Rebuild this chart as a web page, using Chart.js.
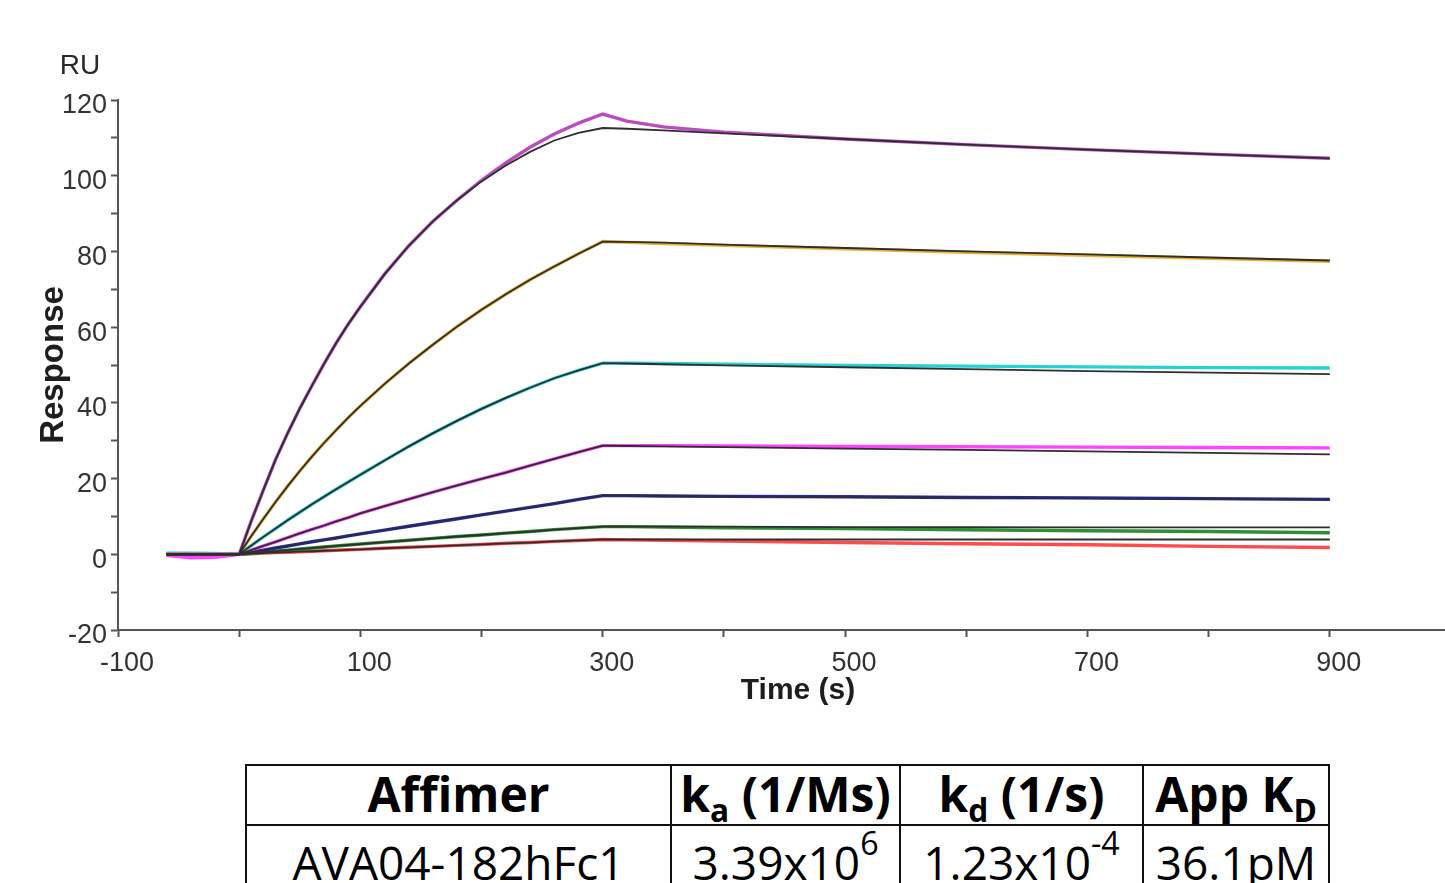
<!DOCTYPE html>
<html>
<head>
<meta charset="utf-8">
<script src="https://cdn.jsdelivr.net/npm/chart.js@4.4.0/dist/chart.umd.min.js"></script>
<style>
  html, body { margin: 0; padding: 0; background: #fff; width: 1445px; height: 883px; overflow: hidden; }
  #wrap { position: relative; width: 1445px; height: 883px; overflow: hidden; }
  #myChart { position: absolute; left: 0; top: 0; }
  table { position: absolute; left: 245px; top: 764px; border-collapse: collapse; table-layout: fixed;
          font-family: "Open Sans", "Noto Sans", sans-serif; color: #000; }
  td, th { border: 2px solid #111; padding: 0; text-align: center; vertical-align: top; white-space: nowrap; }
  th { font-weight: 700; font-size: 48px; line-height: 48px; padding-top: 4px; }
  td { font-weight: 400; font-size: 46px; line-height: 46px; padding-top: 13px; }
  tr.head { height: 60px; }
  tr.row { height: 80px; }
  sub { font-size: 0.66em; line-height: 0; vertical-align: -0.32em; }
  sup { font-size: 0.7em; line-height: 0; vertical-align: 0.78em; }
</style>
</head>
<body>
<div id="wrap">
  <!-- 畫布比視窗略寬, 讓 x 軸延伸到右邊界外 (1000 s) -->
  <canvas id="myChart" width="1451" height="730"></canvas>
  <table>
    <colgroup><col style="width:425px"><col style="width:229px"><col style="width:243px"><col style="width:186px"></colgroup>
    <tr class="head"><th>Affimer</th><th>k<sub>a</sub> (1/Ms)</th><th>k<sub>d</sub> (1/s)</th><th>App K<sub>D</sub></th></tr>
    <tr class="row"><td>AVA04-182hFc1</td><td>3.39x10<sup>6</sup></td><td>1.23x10<sup>-4</sup></td><td>36.1pM</td></tr>
  </table>
</div>
<script>
const ctx = document.getElementById("myChart").getContext("2d");

// 時間 (s)
const times = [-60, -40, -20, 0, 10, 20, 30, 40, 50, 60, 70, 80, 90, 100, 120, 140, 160, 180, 200, 220, 240, 260, 280, 300,
               320, 350, 400, 500, 600, 700, 800, 900];

// 刻度標籤
const xTickLabels = [-100, 100, 300, 500, 700, 900];
const yTickLabels = [-20, 0, 20, 40, 60, 80, 100, 120];

// 量測曲線 (彩色) 與擬合曲線 (黑色)
const s1Data = [0, 0, 0, 0, 8.8, 17, 25, 32, 38.5, 44.5, 50.3, 55.8, 60.8, 65.4, 74, 81.5, 88, 93.6, 98.8, 103.4, 107.5, 111, 113.9, 116.3, 114.4, 112.9, 111.5, 109.7, 108.2, 106.9, 105.7, 104.6];
const s1Fit  = [0, 0, 0, 0, 8.8, 17, 25, 32, 38.5, 44.5, 50.3, 55.8, 60.8, 65.4, 74, 81.5, 88, 93.6, 98.5, 102.7, 106.3, 109.3, 111.3, 112.6, 112.4, 112.0, 111.2, 109.7, 108.2, 106.9, 105.7, 104.6];
const s2Data = [0, 0, 0, 0, 4.8, 9.4, 13.8, 18, 22, 25.8, 29.4, 32.8, 36.1, 39.2, 45, 50.4, 55.4, 60.2, 64.6, 68.7, 72.5, 76, 79.4, 82.6, 82.4, 82.1, 81.6, 80.7, 79.8, 79.0, 78.2, 77.4];
const s2Fit  = [0, 0, 0, 0, 4.8, 9.4, 13.8, 18, 22, 25.8, 29.4, 32.8, 36.1, 39.2, 45, 50.4, 55.4, 60.2, 64.6, 68.7, 72.5, 76, 79.4, 82.6, 82.5, 82.3, 81.8, 80.9, 80.0, 79.2, 78.4, 77.6];
const s3Data = [0.3, 0.3, 0.2, 0, 2.3, 4.6, 6.8, 9, 11.1, 13.2, 15.2, 17.2, 19.1, 21, 24.8, 28.5, 32, 35.3, 38.4, 41.3, 44, 46.5, 48.6, 50.5, 50.5, 50.4, 50.2, 49.9, 49.7, 49.5, 49.3, 49.2];
const s3Fit  = [0, 0, 0, 0, 2.3, 4.6, 6.8, 9, 11.1, 13.2, 15.2, 17.2, 19.1, 21, 24.8, 28.5, 32, 35.3, 38.4, 41.3, 44, 46.5, 48.6, 50.5, 50.4, 50.2, 49.9, 49.4, 48.9, 48.4, 48.0, 47.6];
const s4Data = [-0.3, -0.9, -0.8, 0, 1.1, 2.2, 3.3, 4.4, 5.5, 6.6, 7.6, 8.7, 9.7, 10.8, 12.7, 14.6, 16.4, 18.2, 19.9, 21.6, 23.4, 25.2, 27.0, 28.7, 28.7, 28.7, 28.6, 28.5, 28.4, 28.3, 28.2, 28.1];
const s4Fit  = [0, 0, 0, 0, 1.1, 2.2, 3.3, 4.4, 5.5, 6.6, 7.6, 8.7, 9.7, 10.8, 12.7, 14.6, 16.4, 18.2, 19.9, 21.6, 23.4, 25.2, 27.0, 28.7, 28.6, 28.5, 28.3, 27.9, 27.6, 27.2, 26.8, 26.4];
const s5Data = [0, 0, 0, 0, 0.55, 1.1, 1.65, 2.2, 2.75, 3.3, 3.8, 4.3, 4.85, 5.4, 6.4, 7.4, 8.4, 9.4, 10.4, 11.4, 12.4, 13.4, 14.5, 15.5, 15.5, 15.4, 15.3, 15.2, 15.0, 14.9, 14.7, 14.5];
const s5Fit  = [0, 0, 0, 0, 0.55, 1.1, 1.65, 2.2, 2.75, 3.3, 3.8, 4.3, 4.85, 5.4, 6.4, 7.4, 8.4, 9.4, 10.4, 11.4, 12.4, 13.4, 14.5, 15.5, 15.5, 15.4, 15.3, 15.1, 15.0, 14.8, 14.6, 14.5];
const s6Data = [0, 0, 0, 0, 0.28, 0.55, 0.83, 1.1, 1.38, 1.65, 1.93, 2.2, 2.45, 2.7, 3.2, 3.7, 4.2, 4.7, 5.1, 5.6, 6.0, 6.5, 6.9, 7.3, 7.3, 7.2, 7.0, 6.8, 6.5, 6.2, 6.0, 5.7];
const s6Fit  = [0, 0, 0, 0, 0.28, 0.55, 0.83, 1.1, 1.38, 1.65, 1.93, 2.2, 2.45, 2.7, 3.2, 3.7, 4.2, 4.7, 5.1, 5.6, 6.0, 6.5, 6.9, 7.3, 7.3, 7.3, 7.3, 7.2, 7.2, 7.1, 7.1, 7.1];
const s7Data = [0, 0, 0, 0, 0.15, 0.3, 0.43, 0.55, 0.68, 0.8, 0.93, 1.05, 1.18, 1.3, 1.6, 1.85, 2.1, 2.35, 2.6, 2.9, 3.1, 3.4, 3.65, 3.9, 3.8, 3.7, 3.5, 3.1, 2.8, 2.5, 2.1, 1.8];
const s7Fit  = [0, 0, 0, 0, 0.15, 0.3, 0.43, 0.55, 0.68, 0.8, 0.93, 1.05, 1.18, 1.3, 1.6, 1.85, 2.1, 2.35, 2.6, 2.9, 3.1, 3.4, 3.65, 3.9, 3.9, 3.9, 3.9, 3.9, 3.9, 3.9, 3.9, 3.9];

const dataSets = [s1Data, s2Data, s3Data, s4Data, s5Data, s6Data, s7Data];
const fitSets = [s1Fit, s2Fit, s3Fit, s4Fit, s5Fit, s6Fit, s7Fit];
const colors = ["#b94cbf", "#e8b23a", "#25d2d6", "#ff44ff", "#2626cc", "#2f8f34", "#ff4b4b"];

const toPoints = (vals) => times.map((t, i) => ({ x: t, y: vals[i] }));

const datasets = [];
fitSets.forEach((vals) => {
  datasets.push({ data: toPoints(vals), borderColor: "#2e2e2e", borderWidth: 1.8, order: 0 });
});
dataSets.forEach((vals, i) => {
  datasets.push({ data: toPoints(vals), borderColor: colors[i], borderWidth: 3.4, order: 1 });
});

const tickFont = { family: '"Liberation Sans Narrow", "Liberation Sans", Arial, sans-serif', size: 27 };

// 額外文字: RU 與 Time (s)
const axisTextPlugin = {
  id: "axisText",
  afterDraw(chart) {
    const c = chart.ctx;
    c.save();
    c.fillStyle = "#2a2a2a";
    c.textAlign = "center";
    c.textBaseline = "middle";
    c.font = '28px "Liberation Sans Narrow", "Liberation Sans", Arial, sans-serif';
    c.fillText("RU", 80, 66);
    c.font = 'bold 30px "Liberation Sans", Arial, sans-serif';
    c.fillStyle = "#1e1e1e";
    c.fillText("Time (s)", 798, 691);
    c.restore();
  },
};

const myChart = new Chart(ctx, {
  type: "line",
  data: { datasets },
  options: {
    responsive: false,
    animation: false,
    layout: { padding: { top: 100, left: 0, right: 0, bottom: 0 } },
    elements: { point: { radius: 0 }, line: { tension: 0 } },
    plugins: { legend: { display: false }, tooltip: { enabled: false } },
    scales: {
      x: {
        type: "linear",
        min: -100,
        max: 1000,
        border: { display: true, color: "#555", width: 2 },
        grid: { display: true, drawOnChartArea: false, drawTicks: true, tickLength: 7, tickColor: "#555", tickWidth: 2 },
        ticks: {
          stepSize: 100,
          autoSkip: false,
          maxRotation: 0,
          minRotation: 0,
          padding: 10,
          labelOffset: 9,
          color: "#333",
          font: tickFont,
          callback: (v) => (xTickLabels.includes(Math.round(v)) ? String(Math.round(v)) : ""),
        },
        afterFit(scale) {
          scale.height = 100;
          scale.paddingLeft = 0;
          scale.paddingRight = 0;
        },
      },
      y: {
        min: -20,
        max: 120,
        border: { display: true, color: "#555", width: 2 },
        grid: { display: true, drawOnChartArea: false, drawTicks: true, tickLength: 7, tickColor: "#555", tickWidth: 2 },
        ticks: {
          stepSize: 10,
          autoSkip: false,
          padding: 4,
          labelOffset: 6,
          color: "#333",
          font: tickFont,
          callback: (v) => (yTickLabels.includes(Math.round(v)) ? String(Math.round(v)) : ""),
        },
        title: {
          display: true,
          text: "Response",
          color: "#1e1e1e",
          font: { family: '"Liberation Sans", Arial, sans-serif', size: 33, weight: "bold" },
          padding: { top: 34, bottom: 0 },
        },
        afterFit(scale) {
          scale.width = 118;
          scale.paddingTop = 0;
          scale.paddingBottom = 0;
        },
      },
    },
  },
  plugins: [axisTextPlugin],
});
</script>
</body>
</html>
